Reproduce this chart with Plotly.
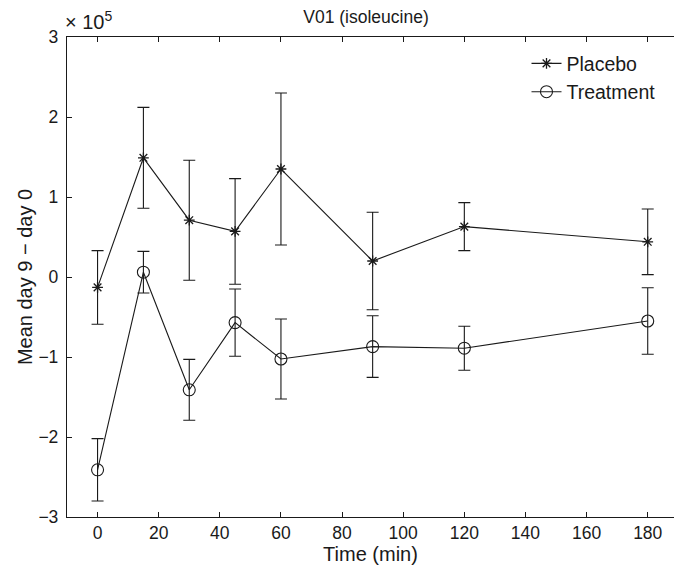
import plotly.graph_objects as go

# Data (values in units of 1e5)
time_min = [0, 15, 30, 45, 60, 90, 120, 180]
placebo_mean = [-0.13, 1.49, 0.71, 0.57, 1.35, 0.20, 0.63, 0.44]
placebo_err = [0.46, 0.63, 0.75, 0.66, 0.95, 0.61, 0.30, 0.41]
treatment_mean = [-2.41, 0.06, -1.41, -0.57, -1.025, -0.87, -0.89, -0.55]
treatment_err = [0.39, 0.26, 0.38, 0.42, 0.50, 0.385, 0.275, 0.415]

SCALE = 1e5
x_ticks = [0, 20, 40, 60, 80, 100, 120, 140, 160, 180]
y_ticks = [-3, -2, -1, 0, 1, 2, 3]
y_ticktext = ["\u22123", "\u22122", "\u22121", "0", "1", "2", "3"]

FONT = "Liberation Sans, Arial, Helvetica, sans-serif"
INK = "#1a1a1a"
FS_TICK = 17.5
FS_LABEL = 20
FS_TITLE = 17.5
FS_LEG = 19.5

fig = go.Figure()
fig.add_trace(go.Scatter(
    x=time_min, y=[v * SCALE for v in placebo_mean], name="Placebo",
    mode="lines+markers",
    line=dict(color=INK, width=1.1),
    marker=dict(symbol="asterisk-open", size=9, color=INK, line=dict(color=INK, width=1.3)),
    error_y=dict(type="data", array=[e * SCALE for e in placebo_err], visible=True,
                 color=INK, thickness=1.1, width=6),
))
fig.add_trace(go.Scatter(
    x=time_min, y=[v * SCALE for v in treatment_mean], name="Treatment",
    mode="lines+markers",
    line=dict(color=INK, width=1.1),
    marker=dict(symbol="circle-open", size=12, color=INK, line=dict(color=INK, width=1.1)),
    error_y=dict(type="data", array=[e * SCALE for e in treatment_err], visible=True,
                 color=INK, thickness=1.1, width=6),
))

fig.update_layout(
    width=674, height=568,
    margin=dict(l=67, r=0, t=37, b=51),
    paper_bgcolor="white", plot_bgcolor="white",
    font=dict(family=FONT, size=FS_TICK, color=INK),
    title=dict(text="V01 (isoleucine)", x=366 / 674, xanchor="center",
               y=1 - 17 / 568, yanchor="middle", font=dict(size=FS_TITLE, color=INK)),
    showlegend=True,
    legend=dict(x=0.757, y=0.985, xanchor="left", yanchor="top",
                bgcolor="rgba(0,0,0,0)", borderwidth=0,
                font=dict(size=FS_LEG, color=INK), tracegroupgap=0),
    xaxis=dict(range=[-10, 188.6], tickvals=x_ticks, ticks="inside", ticklen=5,
               tickwidth=1, tickcolor=INK, showline=True, linecolor=INK, linewidth=1.3,
               mirror="ticks", showgrid=False, zeroline=False,
               title=dict(text="Time (min)", standoff=2, font=dict(size=FS_LABEL)),
               tickfont=dict(size=FS_TICK)),
    yaxis=dict(range=[-3 * SCALE, 3 * SCALE], tickvals=[t * SCALE for t in y_ticks],
               ticktext=y_ticktext, ticks="inside", ticklen=5, tickwidth=1,
               tickcolor=INK, showline=True, linecolor=INK, linewidth=1.3,
               mirror=False, showgrid=False, zeroline=False, ticklabelstandoff=4,
               title=dict(text="Mean day 9 \u2212 day 0", standoff=0, font=dict(size=FS_LABEL)),
               tickfont=dict(size=FS_TICK)),
)

fig.add_annotation(
    text="\u00d7 10<sup>5</sup>", xref="paper", yref="paper", x=0, y=1,
    xanchor="left", yanchor="bottom", xshift=-4, yshift=2, showarrow=False,
    font=dict(size=FS_LABEL, color=INK, family=FONT),
)

fig.write_html("out.html")
